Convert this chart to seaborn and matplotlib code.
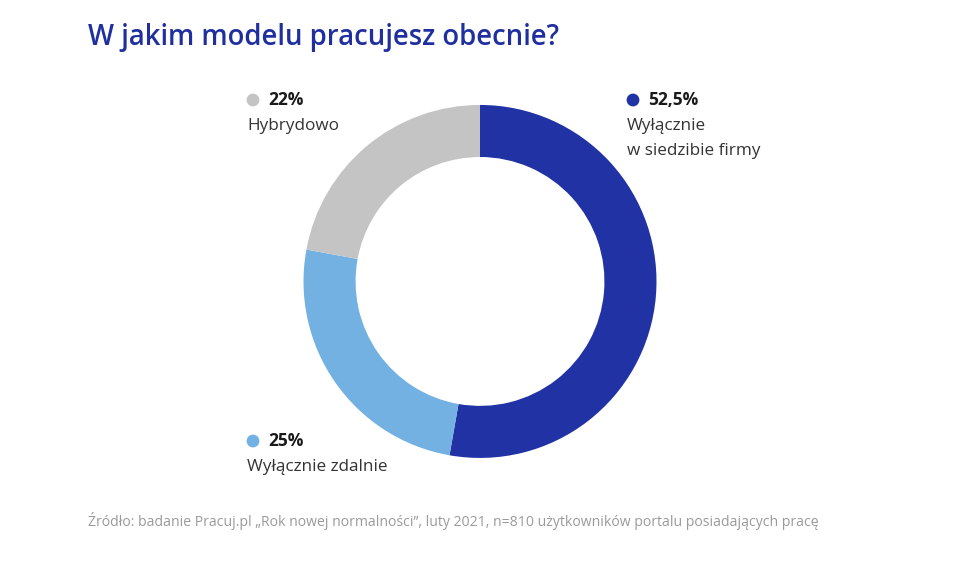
import matplotlib
matplotlib.use('Agg')
import matplotlib.pyplot as plt
from matplotlib import font_manager as fm
import seaborn as sns

# dane z wykresu
categories = ['Wyłącznie\nw siedzibie firmy', 'Wyłącznie zdalnie', 'Hybrydowo']
shares = [52.5, 25, 22]
share_labels = ['52,5%', '25%', '22%']
colors = ['#2133a4', '#72b1e1', '#c4c4c4']

title = 'W jakim modelu pracujesz obecnie?'
source = 'Źródło: badanie Pracuj.pl „Rok nowej normalności”, luty 2021, n=810 użytkowników portalu posiadających pracę'

sns.set_style('white')
plt.rcParams['font.family'] = ['Open Sans', 'DejaVu Sans']


def open_sans(weight, size):
    # bierzemy plik bez "Cond", żeby nie trafić na wersję zwężoną
    for f in fm.fontManager.ttflist:
        if f.name == 'Open Sans' and f.weight == weight and f.style == 'normal' \
                and 'Cond' not in f.fname and f.stretch == 'normal':
            return fm.FontProperties(fname=f.fname, size=size)
    return fm.FontProperties(family='Open Sans', weight=weight, size=size)


fig = plt.figure(figsize=(9.6, 5.66), dpi=100)
fig.patch.set_facecolor('white')

# donut
pie_ax = fig.add_axes([0.31615, 0.1909, 0.3677, 0.6237])
pie_ax.pie(shares, colors=colors, startangle=90, counterclock=False, radius=1,
           wedgeprops=dict(width=0.295, linewidth=0))
pie_ax.set_xlim(-1, 1)
pie_ax.set_ylim(-1, 1)
pie_ax.set_aspect('equal')
pie_ax.axis('off')

# warstwa na teksty w pikselach
overlay = fig.add_axes([0, 0, 1, 1], zorder=5)
overlay.set_xlim(0, 960)
overlay.set_ylim(566, 0)
overlay.axis('off')
overlay.patch.set_alpha(0)

overlay.text(88, 38, title, fontproperties=open_sans(600, 19.8), color='#1f2f9f',
             va='center', ha='left')

label_pos = [(633, 100), (253, 441), (253, 100)]
for (x, y), cat, lab, col in zip(label_pos, categories, share_labels, colors):
    overlay.scatter([x], [y], s=85, color=col, edgecolors='none')
    overlay.text(x + 15, y, lab, fontproperties=open_sans(700, 12.5), color='#1a1a1a',
                 va='center', ha='left')
    overlay.text(x - 6, y + 18, cat, fontsize=12.3, color='#333333', va='top', ha='left',
                 linespacing=1.72)

overlay.text(88, 521, source, fontsize=10.1, color='#9a9a9a', va='center', ha='left')

plt.savefig('out.png', dpi=100)
plt.close()
